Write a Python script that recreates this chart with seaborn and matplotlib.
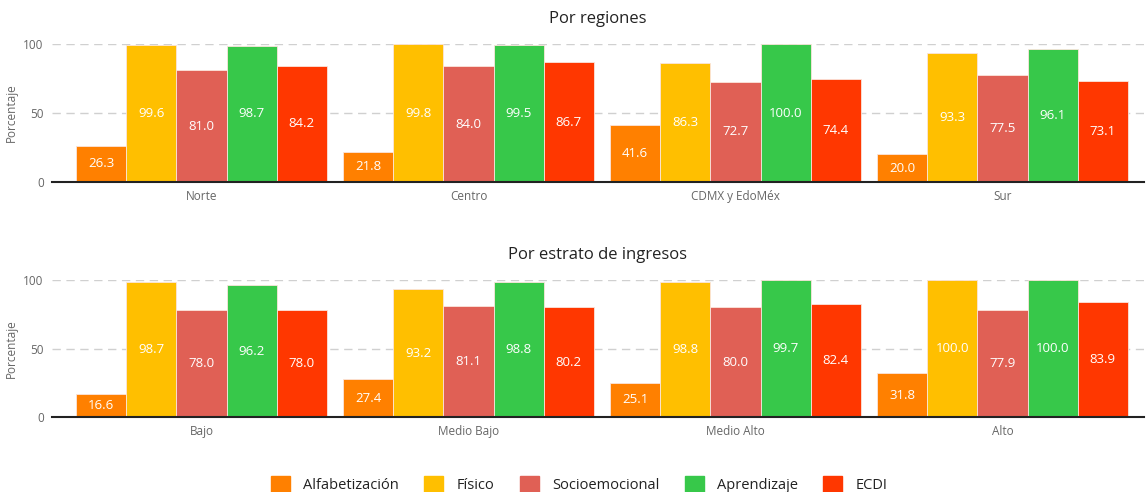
import pandas as pd
import matplotlib.pyplot as plt
import seaborn as sns

# =============================
# DATA
# =============================
dimensiones = ["Alfabetización", "Físico", "Socioemocional", "Aprendizaje", "ECDI"]
colores = ["#FF8000", "#FFBF00", "#E06055", "#37C84A", "#FF3700"]

regiones = ["Norte", "Centro", "CDMX y EdoMéx", "Sur"]
reg_alfa = [26.3, 21.8, 41.6, 20.0]
reg_fisico = [99.6, 99.8, 86.3, 93.3]
reg_socio = [81.0, 84.0, 72.7, 77.5]
reg_aprend = [98.7, 99.5, 100.0, 96.1]
reg_ecdi = [84.2, 86.7, 74.4, 73.1]

estratos = ["Bajo", "Medio Bajo", "Medio Alto", "Alto"]
est_alfa = [16.6, 27.4, 25.1, 31.8]
est_fisico = [98.7, 93.2, 98.8, 100.0]
est_socio = [78.0, 81.1, 80.0, 77.9]
est_aprend = [96.2, 98.8, 99.7, 100.0]
est_ecdi = [78.0, 80.2, 82.4, 83.9]


def to_long(cats, series):
    rows = []
    for dim, vals in zip(dimensiones, series):
        for c, v in zip(cats, vals):
            rows.append({"grupo": c, "dimension": dim, "valor": v})
    return pd.DataFrame(rows)


df_reg = to_long(regiones, [reg_alfa, reg_fisico, reg_socio, reg_aprend, reg_ecdi])
df_est = to_long(estratos, [est_alfa, est_fisico, est_socio, est_aprend, est_ecdi])

# =============================
# PLOT
# =============================
sns.set_style("white")
plt.rcParams["font.family"] = ["Open Sans", "DejaVu Sans"]

fig = plt.figure(figsize=(11.47, 4.92), dpi=100)
ax1 = fig.add_axes([0.0453, 0.630, 0.952, 0.2806])
ax2 = fig.add_axes([0.0453, 0.1524, 0.952, 0.2785])

grey = "#666666"


def draw(ax, df, cats, title):
    sns.barplot(data=df, x="grupo", y="valor", hue="dimension", order=cats,
                hue_order=dimensiones, palette=colores, width=0.94,
                edgecolor="#fbe5dc", linewidth=0.6, saturation=1, ax=ax,
                legend=False)
    for cont in ax.containers:
        ax.bar_label(cont, fmt="%.1f", label_type="center", color="white",
                     fontsize=9.5)
    ax.set_ylim(0, 100)
    ax.set_xlim(-0.56, 3.53)
    ax.set_yticks([0, 50, 100])
    ax.yaxis.grid(True, linestyle=(0, (6, 4)), color="#d0d0d0", linewidth=1)
    ax.set_axisbelow(True)
    for s in ["top", "right", "left"]:
        ax.spines[s].set_visible(False)
    ax.spines["bottom"].set_color("#222222")
    ax.spines["bottom"].set_linewidth(1.5)
    ax.tick_params(axis="both", length=0, colors=grey, labelsize=8.5, pad=6)
    ax.set_xlabel("")
    ax.set_ylabel("Porcentaje", color=grey, fontsize=8.5, labelpad=4)
    ax.set_title(title, fontsize=12, color="#222222", pad=15)


draw(ax1, df_reg, regiones, "Por regiones")
draw(ax2, df_est, estratos, "Por estrato de ingresos")

handles = [plt.Rectangle((0, 0), 1, 1, color=c) for c in colores]
fig.legend(handles, dimensiones, loc="center", bbox_to_anchor=(0.505, 0.016),
           ncol=5, frameon=False, fontsize=10.5, handlelength=1.3,
           handleheight=1.3, columnspacing=1.75, handletextpad=0.9,
           labelcolor="#222222")

fig.savefig("out.png", dpi=100)
